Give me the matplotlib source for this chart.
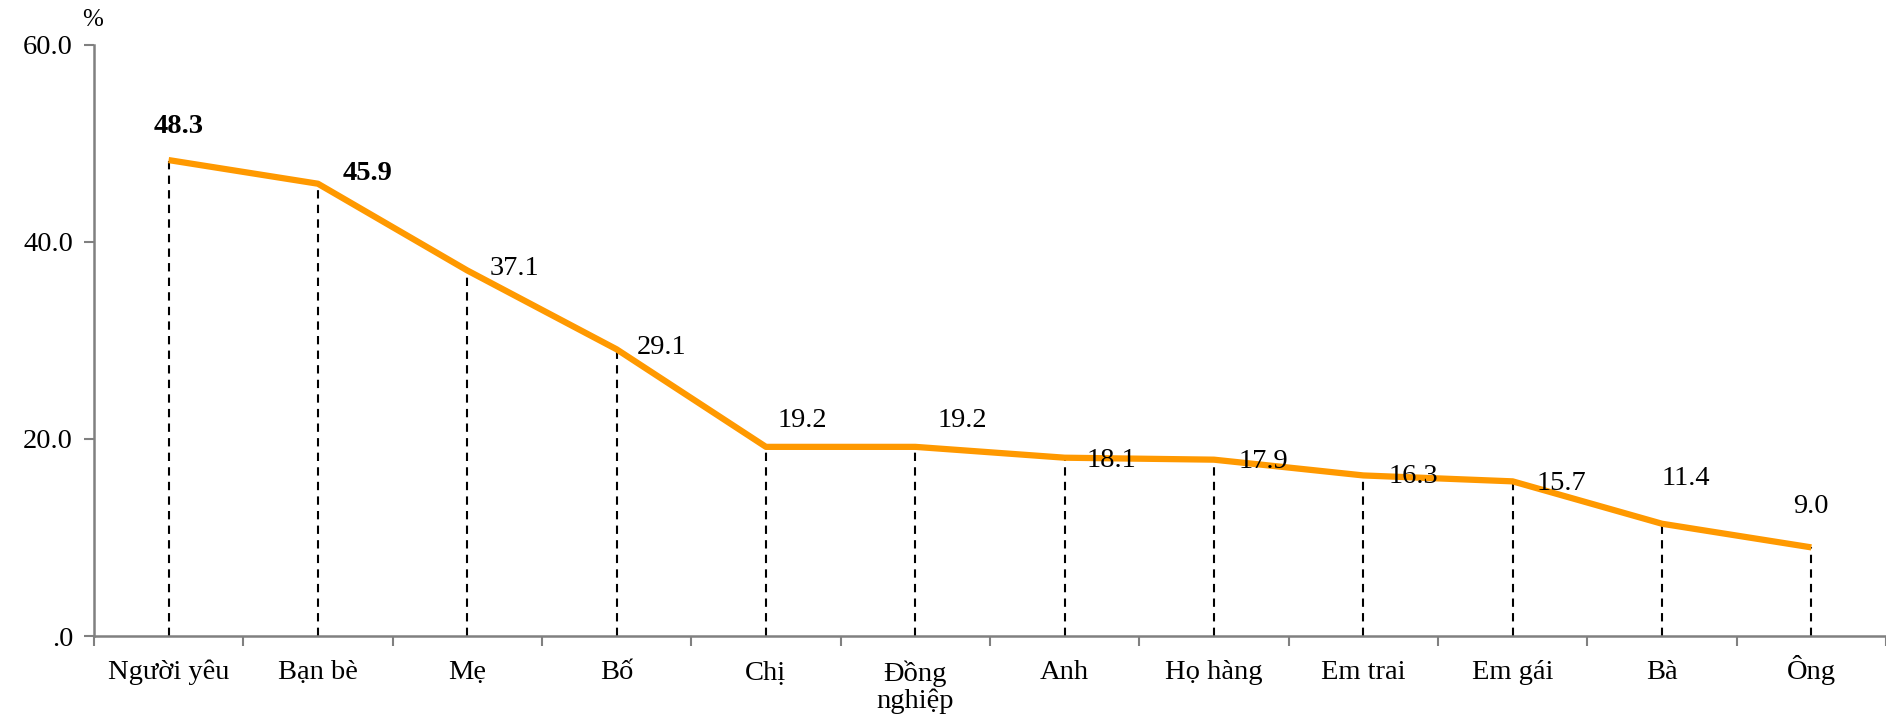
import matplotlib.pyplot as plt
import numpy as np

plt.rcParams['font.family'] = ['Liberation Serif', 'DejaVu Serif']

categories = ["Người yêu", "Bạn bè", "Mẹ", "Bố", "Chị", "Đồng\nnghiệp", "Anh",
              "Họ hàng", "Em trai", "Em gái", "Bà", "Ông"]
values = [48.3, 45.9, 37.1, 29.1, 19.2, 19.2, 18.1, 17.9, 16.3, 15.7, 11.4, 9.0]
bold_labels = [True, True] + [False] * 10
yticks = [0, 20, 40, 60]
ytick_labels = [".0", "20.0", "40.0", "60.0"]

# label offsets in pixels (dx, dy, ha)
offsets = [(10, 34, "center"), (25, 10, "left"), (22, 2, "left"), (20, 2, "left"),
           (12, 26, "left"), (22, 26, "left"), (22, -3, "left"), (25, -2, "left"),
           (25, -1, "left"), (24, -2, "left"), (0, 45, "left"), (0, 41, "center")]

fig = plt.figure(figsize=(18.86, 7.22), dpi=100)
ax = fig.add_axes([0.0498, 0.119, 0.9502, 0.819])

x = np.arange(len(categories))
ax.plot(x, values, color="#FF9900", lw=4.5, solid_capstyle="butt", zorder=3)
ax.vlines(x, 0, values, colors="black", linestyles=(0, (4, 3)), lw=1.5, zorder=2)

for xi, v, b, (dx, dy, ha) in zip(x, values, bold_labels, offsets):
    ax.annotate(f"{v:.1f}", (xi, v), xytext=(dx, dy), textcoords="offset pixels",
                ha=ha, va="center", fontsize=20.5,
                fontweight="bold" if b else "normal")

# category labels, baseline aligned (last line baseline for two-line label)
for xi, cat in zip(x, categories):
    nlines = cat.count("\n")
    ax.annotate(cat, (xi, 0), xycoords=("data", "axes fraction"),
                xytext=(0, -43 - 29 * nlines), textcoords="offset pixels",
                ha="center", va="baseline", fontsize=20.5, linespacing=1.1,
                annotation_clip=False)

ax.set_xlim(-0.5, len(categories) - 0.5)
ax.set_ylim(0, 60)
ax.set_yticks(yticks)
ax.set_yticklabels(ytick_labels, fontsize=20.5)
ax.set_xticks(np.arange(len(categories) + 1) - 0.5)
ax.set_xticklabels([])
ax.tick_params(axis="x", length=7, width=1.5, color="#808080", direction="out")
ax.tick_params(axis="y", length=7, width=1.5, color="#808080", direction="out", pad=8)

for s in ["top", "right"]:
    ax.spines[s].set_visible(False)
for s in ["left", "bottom"]:
    ax.spines[s].set_color("#808080")
    ax.spines[s].set_linewidth(1.8)

fig.text(93 / 1886, 1 - 20 / 722, "%", fontsize=18, ha="center", va="center")

fig.savefig("out.png", dpi=100)
